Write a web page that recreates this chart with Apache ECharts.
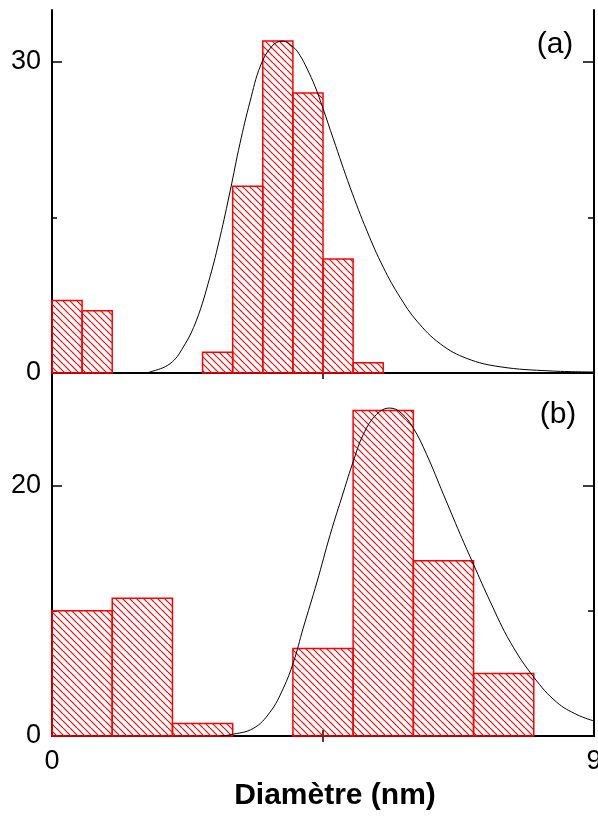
<!DOCTYPE html>
<html>
<head>
<meta charset="utf-8">
<script src="https://cdn.jsdelivr.net/npm/echarts@6/dist/echarts.min.js"></script>
<style>
html,body{margin:0;padding:0;background:#fff;}
#c{width:598px;height:818px;}
</style>
</head>
<body>
<div id="c"></div>
<script>
// ---- data ----
var binStartA = [0, 0.5, 2.5, 3, 3.5, 4, 4.5, 5];
var binWidthA = 0.5;
var countsA = [7, 6, 2, 18, 32, 27, 11, 1];

var binStartB = [0, 1, 2, 4, 5, 6, 7];
var binWidthB = 1;
var countsB = [10, 11, 1, 7, 26, 14, 5];

var curveA = [[1.5,0],[1.63,0.1],[1.96,0.9],[2.18,2.5],[2.40,5.1],[2.62,9.2],[2.79,13.1],[2.96,17.6],
  [3.12,22.1],[3.29,26.2],[3.46,29.6],[3.65,31.5],[3.82,32.0],[4.01,31.4],[4.12,30.6],[4.23,29.4],
  [4.37,27.6],[4.50,25.5],[4.67,22.6],[4.95,17.9],[5.23,13.7],[5.50,10.2],[5.78,7.3],[6.06,5.0],
  [6.45,2.8],[6.89,1.4],[7.44,0.6],[8.27,0.2],[9.0,0.1]];

var curveB = [[2.8,0],[2.96,0.1],[3.34,0.6],[3.62,1.9],[3.84,3.8],[4.01,5.9],[4.17,8.6],[4.40,12.3],
  [4.62,16.1],[4.84,19.5],[5.00,21.9],[5.17,24.1],[5.39,25.7],[5.61,26.2],[5.80,25.8],[6.00,24.6],
  [6.22,22.5],[6.50,19.3],[6.78,16.1],[7.00,13.7],[7.28,10.7],[7.61,7.5],[8.00,4.7],[8.38,2.7],
  [8.72,1.7],[9.0,1.2]];

var xMin = 0, xMax = 9;
var yMaxA = 35, yMaxB = 29;
var xLabels = [0, 9];
var yMajorA = [30], yMinorA = [15], yLabelsA = [0, 30];
var yMajorB = [20], yMinorB = [10], yLabelsB = [0, 20];
var xTitle = 'Diamètre (nm)';

// ---- hatch pattern ----
var tile = document.createElement('canvas');
var s = 7;
tile.width = s; tile.height = s;
var ctx = tile.getContext('2d');
ctx.strokeStyle = '#ff0000';
ctx.lineWidth = 1.2;
for (var k = -1; k <= 1; k++) {
  ctx.beginPath();
  ctx.moveTo(k * s, 0);
  ctx.lineTo(k * s + s, s);
  ctx.stroke();
}
var hatch = { image: tile, repeat: 'repeat' };

function bars(starts, w, counts) {
  return starts.map(function (x0, i) { return [x0, x0 + w, counts[i]]; });
}

function renderBar(params, api) {
  var p0 = api.coord([api.value(0), 0]);
  var p1 = api.coord([api.value(1), api.value(2)]);
  return {
    type: 'rect',
    shape: { x: p0[0], y: p1[1], width: p1[0] - p0[0], height: p0[1] - p1[1] },
    style: { fill: hatch, stroke: '#ff0000', lineWidth: 1.5 }
  };
}

var font = 'Liberation Sans, Arial, sans-serif';
var lineStyle = { color: '#000', width: 2 };

function xAx(grid, pos, ticks, labels) {
  return {
    type: 'value', gridIndex: grid, position: pos, min: xMin, max: xMax,
    axisLine: { show: true, lineStyle: lineStyle },
    axisTick: { show: ticks.length > 0, inside: true, length: 6, customValues: ticks, lineStyle: { color: '#000', width: 1.5 } },
    axisLabel: { show: labels.length > 0, customValues: labels, color: '#000', fontSize: 27, fontFamily: font, margin: 12, hideOverlap: false },
    splitLine: { show: false }
  };
}
function yAx(grid, pos, max, ticks, len, labels, showLine) {
  return {
    type: 'value', gridIndex: grid, position: pos, min: 0, max: max,
    axisLine: { show: showLine, lineStyle: lineStyle },
    axisTick: { show: true, inside: true, length: len, customValues: ticks, lineStyle: { color: '#000', width: 1.5 } },
    axisLabel: { show: labels.length > 0, customValues: labels, color: '#000', fontSize: 27, fontFamily: font, margin: 11 },
    splitLine: { show: false }
  };
}

var chart = echarts.init(document.getElementById('c'));
chart.setOption({
  animation: false,
  backgroundColor: '#fff',
  grid: [
    { left: 52, right: 4, top: 10, height: 363, containLabel: false, outerBoundsMode: 'none' },
    { left: 52, right: 4, top: 373, height: 363, containLabel: false, outerBoundsMode: 'none' }
  ],
  xAxis: [
    xAx(0, 'bottom', [], []),
    xAx(0, 'top', [4.5], []),
    xAx(1, 'bottom', [4.5], xLabels),
    xAx(1, 'top', [4.5], [])
  ],
  yAxis: [
    yAx(0, 'left', yMaxA, yMajorA, 10, yLabelsA, true),
    yAx(0, 'left', yMaxA, yMinorA, 5, [], false),
    yAx(0, 'right', yMaxA, yMajorA, 11, [], true),
    yAx(0, 'right', yMaxA, yMinorA, 6, [], false),
    yAx(1, 'left', yMaxB, yMajorB, 10, yLabelsB, true),
    yAx(1, 'left', yMaxB, yMinorB, 5, [], false),
    yAx(1, 'right', yMaxB, yMajorB, 11, [], true),
    yAx(1, 'right', yMaxB, yMinorB, 6, [], false)
  ],
  series: [
    { type: 'custom', xAxisIndex: 0, yAxisIndex: 0, renderItem: renderBar, data: bars(binStartA, binWidthA, countsA), z: 2 },
    { type: 'line', xAxisIndex: 0, yAxisIndex: 0, data: curveA, smooth: 0.4, showSymbol: false,
      lineStyle: { color: '#000', width: 1 }, z: 3 },
    { type: 'custom', xAxisIndex: 2, yAxisIndex: 4, renderItem: renderBar, data: bars(binStartB, binWidthB, countsB), z: 2 },
    { type: 'line', xAxisIndex: 2, yAxisIndex: 4, data: curveB, smooth: 0.4, showSymbol: false,
      lineStyle: { color: '#000', width: 1 }, z: 3 }
  ],
  graphic: [
    { type: 'text', x: 555, y: 45, style: { text: '(a)', fontSize: 30, fontFamily: font, fill: '#000', align: 'center', verticalAlign: 'middle' } },
    { type: 'text', x: 558, y: 415, style: { text: '(b)', fontSize: 30, fontFamily: font, fill: '#000', align: 'center', verticalAlign: 'middle' } },
    { type: 'text', x: 335, y: 796, style: { text: xTitle, fontSize: 30, fontWeight: 'bold', fontFamily: font, fill: '#000', align: 'center', verticalAlign: 'middle' } }
  ]
});
</script>
</body>
</html>
